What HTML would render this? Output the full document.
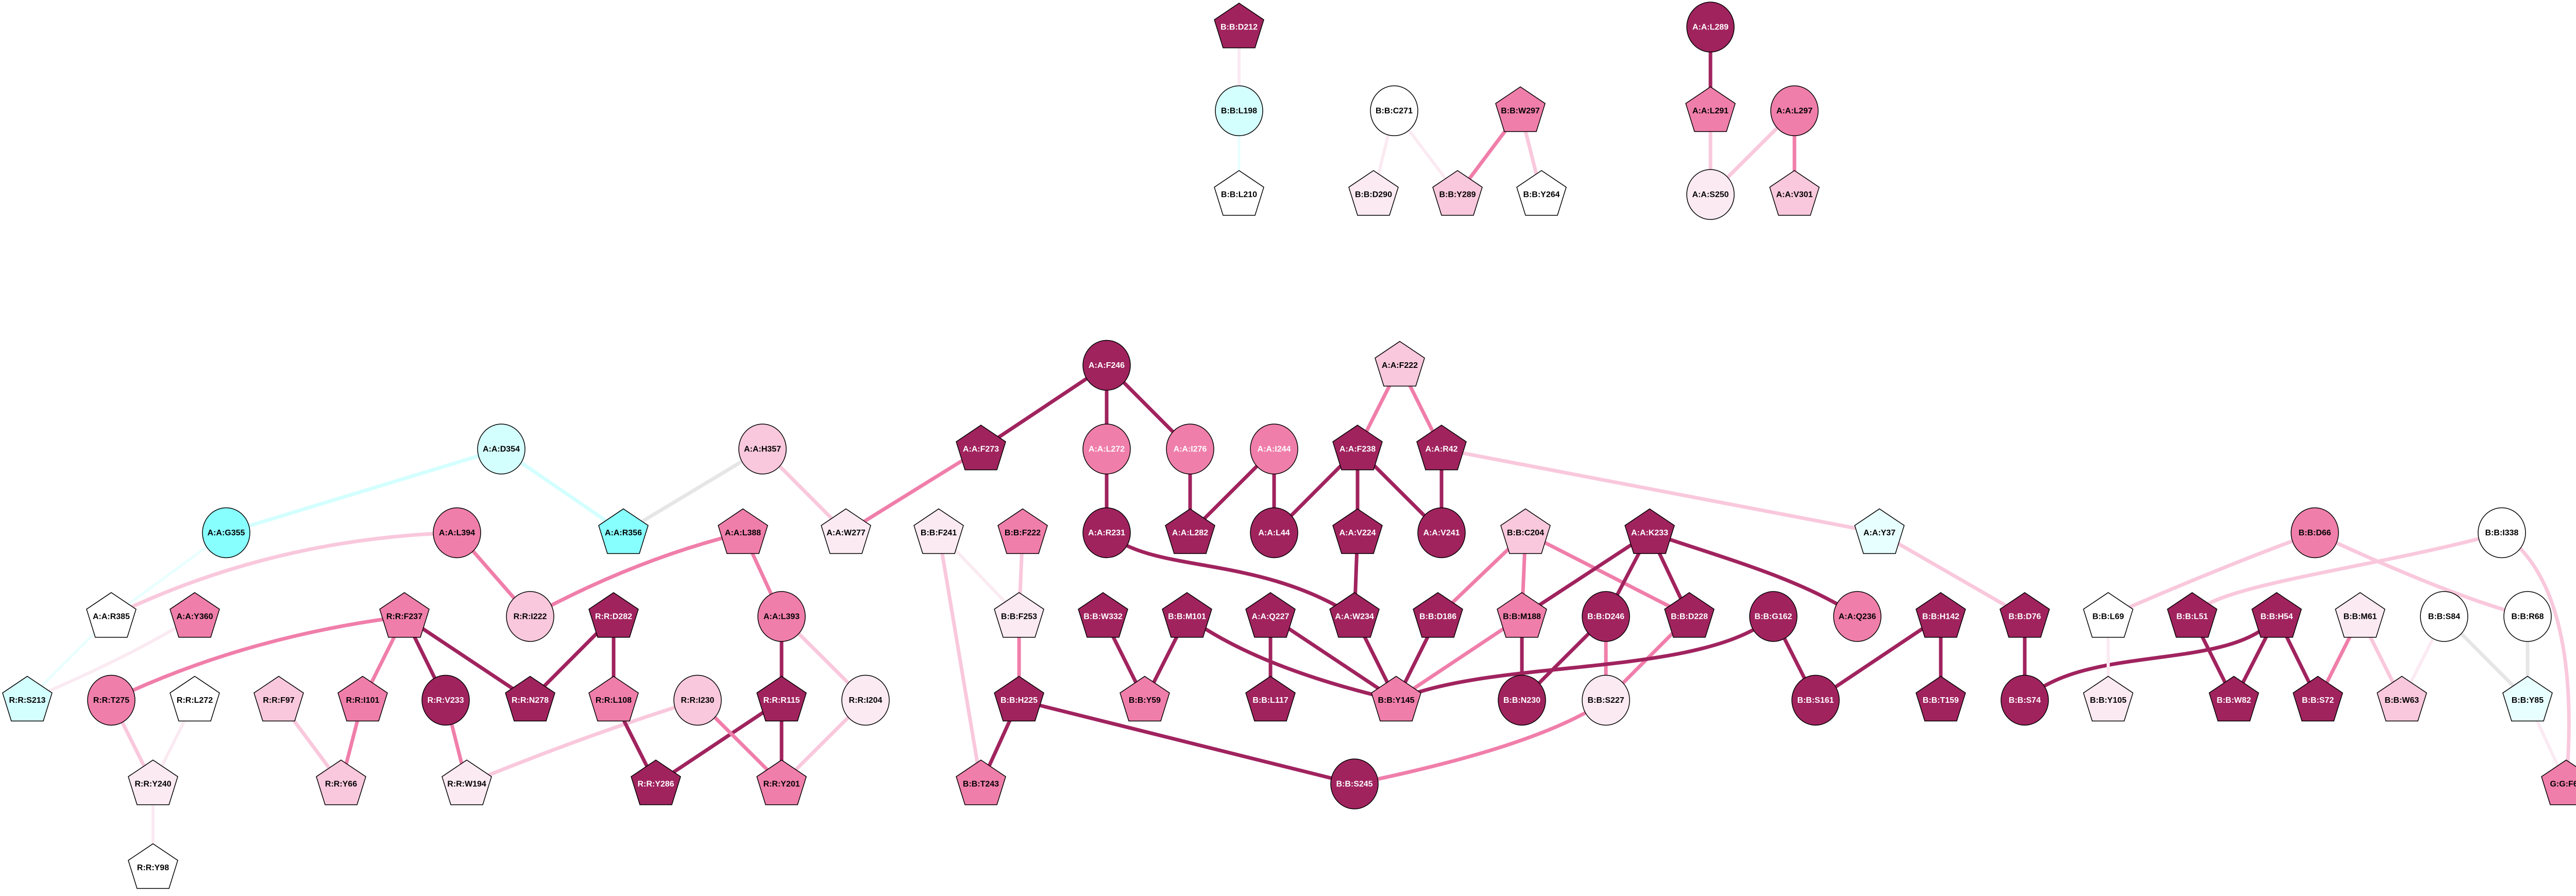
<!DOCTYPE html>
<html><head><meta charset="utf-8"><style>
html,body{margin:0;padding:0;background:#fff;overflow:hidden;width:5045px;height:1739px;}
svg{display:block;}
text{font-family:"Liberation Sans",sans-serif;font-weight:bold;font-size:16px;text-anchor:middle;dominant-baseline:central;fill:#000;}
text.w{fill:#fff;}
.e{fill:none;stroke-linecap:butt;}
.d{stroke:#A0235E;stroke-width:7;}
.m{stroke:#F07EAA;stroke-width:7;}
.l{stroke:#F9C8DC;stroke-width:7;}
.v{stroke:#FBEAF2;stroke-width:6;}
.c{stroke:#D4FFFF;stroke-width:7;}
.vc{stroke:#E8FFFF;stroke-width:5;}
.g{stroke:#E6E6E6;stroke-width:7;}
ellipse,.pp{stroke:#000;stroke-width:1.5;}
</style></head><body>
<svg width="5045" height="1739" viewBox="0 0 5045 1739" xmlns="http://www.w3.org/2000/svg">
<defs><path id="p" class="pp" d="M0,-46 L48,-14 L31,40 L-31,40 L-48,-14 Z"/></defs>
<g transform="matrix(1,0,0,1.0093,0,0)">
<g class="e">
<line class="v" x1="2405" y1="52" x2="2405" y2="213"/>
<line class="vc" x1="2405" y1="213" x2="2405" y2="374"/>
<line class="v" x1="2706" y1="213" x2="2666" y2="374"/>
<line class="v" x1="2706" y1="213" x2="2829" y2="374"/>
<line class="m" x1="2951" y1="213" x2="2829" y2="374"/>
<line class="l" x1="2951" y1="213" x2="2992" y2="374"/>
<line class="d" x1="3320" y1="52" x2="3320" y2="213"/>
<line class="l" x1="3320" y1="213" x2="3320" y2="374"/>
<line class="l" x1="3483" y1="213" x2="3320" y2="374"/>
<line class="m" x1="3483" y1="213" x2="3483" y2="374"/>
</g>
<use href="#p" x="2405" y="52" fill="#A0235E"/><text class="w" x="2405" y="52">B:B:D212</text>
<ellipse cx="2405" cy="213" rx="46" ry="48" fill="#D4FFFF"/><text x="2405" y="213">B:B:L198</text>
<use href="#p" x="2405" y="374" fill="#FFFFFF"/><text x="2405" y="374">B:B:L210</text>
<ellipse cx="2706" cy="213" rx="46" ry="48" fill="#FFFFFF"/><text x="2706" y="213">B:B:C271</text>
<use href="#p" x="2951" y="213" fill="#F07EAA"/><text x="2951" y="213">B:B:W297</text>
<use href="#p" x="2666" y="374" fill="#FBEAF2"/><text x="2666" y="374">B:B:D290</text>
<use href="#p" x="2829" y="374" fill="#F9C8DC"/><text x="2829" y="374">B:B:Y289</text>
<use href="#p" x="2992" y="374" fill="#FFFFFF"/><text x="2992" y="374">B:B:Y264</text>
<ellipse cx="3320" cy="52" rx="46" ry="48" fill="#A0235E"/><text class="w" x="3320" y="52">A:A:L289</text>
<use href="#p" x="3320" y="213" fill="#F07EAA"/><text x="3320" y="213">A:A:L291</text>
<ellipse cx="3483" cy="213" rx="46" ry="48" fill="#F07EAA"/><text x="3483" y="213">A:A:L297</text>
<ellipse cx="3320" cy="374" rx="46" ry="48" fill="#FBEAF2"/><text x="3320" y="374">A:A:S250</text>
<use href="#p" x="3483" y="374" fill="#F9C8DC"/><text x="3483" y="374">A:A:V301</text>
</g>
<g transform="matrix(1,0,0,1.00932,0,-5.6)">
<g class="e">
<line class="c" x1="973" y1="869" x2="439" y2="1030"/>
<line class="c" x1="973" y1="869" x2="1210" y2="1030"/>
<line class="g" x1="1480" y1="869" x2="1210" y2="1030"/>
<line class="l" x1="1480" y1="869" x2="1642" y2="1030"/>
<line class="vc" x1="439" y1="1030" x2="216" y2="1191"/>
<path class="l" d="M887,1030 Q529,1040 216,1191"/>
<line class="m" x1="887" y1="1030" x2="1029" y2="1191"/>
<path class="m" d="M1442,1030 Q1235,1080 1029,1191"/>
<line class="m" x1="1442" y1="1030" x2="1517" y2="1191"/>
<line class="vc" x1="216" y1="1191" x2="53" y2="1352"/>
<path class="v" d="M378,1191 Q250,1270 53,1352"/>
<path class="m" d="M785,1191 Q476,1229 216,1352"/>
<line class="m" x1="785" y1="1191" x2="704" y2="1352"/>
<line class="d" x1="785" y1="1191" x2="865" y2="1352"/>
<line class="d" x1="785" y1="1191" x2="1029" y2="1352"/>
<line class="d" x1="1191" y1="1191" x2="1029" y2="1352"/>
<line class="d" x1="1191" y1="1191" x2="1191" y2="1352"/>
<line class="d" x1="1517" y1="1191" x2="1517" y2="1352"/>
<line class="l" x1="1517" y1="1191" x2="1680" y2="1352"/>
<line class="l" x1="216" y1="1352" x2="297" y2="1513"/>
<line class="v" x1="378" y1="1352" x2="297" y2="1513"/>
<line class="l" x1="541" y1="1352" x2="662" y2="1513"/>
<line class="m" x1="704" y1="1352" x2="662" y2="1513"/>
<line class="m" x1="865" y1="1352" x2="906" y2="1513"/>
<path class="l" d="M1354,1352 Q1140,1418 906,1513"/>
<line class="d" x1="1191" y1="1352" x2="1273" y2="1513"/>
<line class="d" x1="1517" y1="1352" x2="1273" y2="1513"/>
<line class="m" x1="1354" y1="1352" x2="1517" y2="1513"/>
<line class="d" x1="1517" y1="1352" x2="1517" y2="1513"/>
<line class="l" x1="1680" y1="1352" x2="1517" y2="1513"/>
<line class="v" x1="297" y1="1513" x2="297" y2="1674"/>
<line class="m" x1="1904" y1="869" x2="1642" y2="1030"/>
<line class="d" x1="2148" y1="708" x2="1904" y2="869"/>
<line class="d" x1="2148" y1="708" x2="2148" y2="869"/>
<line class="d" x1="2148" y1="708" x2="2310" y2="869"/>
<line class="d" x1="2148" y1="869" x2="2148" y2="1030"/>
<line class="d" x1="2310" y1="869" x2="2310" y2="1030"/>
<line class="d" x1="2473" y1="869" x2="2310" y2="1030"/>
<line class="d" x1="2473" y1="869" x2="2473" y2="1030"/>
<line class="m" x1="2717" y1="708" x2="2635" y2="869"/>
<line class="m" x1="2717" y1="708" x2="2798" y2="869"/>
<line class="d" x1="2635" y1="869" x2="2473" y2="1030"/>
<line class="d" x1="2635" y1="869" x2="2635" y2="1030"/>
<line class="d" x1="2635" y1="869" x2="2798" y2="1030"/>
<line class="d" x1="2798" y1="869" x2="2798" y2="1030"/>
<line class="l" x1="2798" y1="869" x2="3648" y2="1030"/>
<path class="d" d="M2148,1030 C2240,1110 2440,1070 2629,1191"/>
<line class="d" x1="2635" y1="1030" x2="2629" y2="1191"/>
<line class="v" x1="1822" y1="1030" x2="1978" y2="1191"/>
<line class="l" x1="1822" y1="1030" x2="1904" y2="1513"/>
<line class="l" x1="1985" y1="1030" x2="1978" y2="1191"/>
<line class="m" x1="1978" y1="1191" x2="1978" y2="1352"/>
<line class="d" x1="2141" y1="1191" x2="2222" y2="1352"/>
<line class="d" x1="2304" y1="1191" x2="2222" y2="1352"/>
<path class="d" d="M2304,1191 Q2440,1290 2710,1352"/>
<line class="d" x1="2466" y1="1191" x2="2466" y2="1352"/>
<line class="d" x1="2466" y1="1191" x2="2710" y2="1352"/>
<line class="d" x1="2629" y1="1191" x2="2710" y2="1352"/>
<line class="d" x1="2791" y1="1191" x2="2710" y2="1352"/>
<line class="m" x1="2954" y1="1191" x2="2710" y2="1352"/>
<line class="m" x1="2961" y1="1030" x2="2791" y2="1191"/>
<line class="m" x1="2961" y1="1030" x2="2954" y2="1191"/>
<line class="m" x1="2961" y1="1030" x2="3279" y2="1191"/>
<line class="d" x1="3202" y1="1030" x2="2954" y2="1191"/>
<line class="d" x1="3202" y1="1030" x2="3117" y2="1191"/>
<line class="d" x1="3202" y1="1030" x2="3279" y2="1191"/>
<path class="d" d="M3202,1030 C3350,1080 3500,1120 3605,1191"/>
<line class="d" x1="2954" y1="1191" x2="2954" y2="1352"/>
<line class="d" x1="3117" y1="1191" x2="2954" y2="1352"/>
<line class="m" x1="3117" y1="1191" x2="3117" y2="1352"/>
<line class="m" x1="3279" y1="1191" x2="3117" y2="1352"/>
<path class="d" d="M2710,1352 C2900,1270 3300,1310 3442,1191"/>
<line class="d" x1="1978" y1="1352" x2="1904" y2="1513"/>
<line class="d" x1="1978" y1="1352" x2="2629" y2="1513"/>
<path class="m" d="M3117,1352 Q2990,1440 2629,1513"/>
<line class="d" x1="3442" y1="1191" x2="3524" y2="1352"/>
<line class="d" x1="3767" y1="1191" x2="3524" y2="1352"/>
<line class="d" x1="3767" y1="1191" x2="3767" y2="1352"/>
<line class="d" x1="3930" y1="1191" x2="3930" y2="1352"/>
<line class="l" x1="3648" y1="1030" x2="3930" y2="1191"/>
<path class="d" d="M4419,1191 C4330,1300 4050,1240 3930,1352"/>
<line class="v" x1="4092" y1="1191" x2="4092" y2="1352"/>
<path class="l" d="M4493,1030 Q4300,1100 4092,1191"/>
<path class="l" d="M4856,1030 C4600,1100 4290,1130 4255,1191"/>
<path class="l" d="M4493,1030 Q4750,1150 4906,1191"/>
<line class="d" x1="4255" y1="1191" x2="4336" y2="1352"/>
<line class="d" x1="4419" y1="1191" x2="4336" y2="1352"/>
<line class="d" x1="4419" y1="1191" x2="4499" y2="1352"/>
<line class="m" x1="4581" y1="1191" x2="4499" y2="1352"/>
<line class="l" x1="4581" y1="1191" x2="4662" y2="1352"/>
<line class="v" x1="4744" y1="1191" x2="4662" y2="1352"/>
<line class="g" x1="4744" y1="1191" x2="4906" y2="1352"/>
<line class="g" x1="4906" y1="1191" x2="4906" y2="1352"/>
<path class="l" d="M4856,1030 C4990,1120 4995,1350 4981,1513"/>
<line class="v" x1="4906" y1="1352" x2="4981" y2="1513"/>
</g>
<ellipse cx="2148" cy="708" rx="46" ry="48" fill="#A0235E"/><text class="w" x="2148" y="708">A:A:F246</text>
<use href="#p" x="2717" y="708" fill="#F9C8DC"/><text x="2717" y="708">A:A:F222</text>
<ellipse cx="973" cy="869" rx="46" ry="48" fill="#D4FFFF"/><text x="973" y="869">A:A:D354</text>
<ellipse cx="1480" cy="869" rx="46" ry="48" fill="#F9C8DC"/><text x="1480" y="869">A:A:H357</text>
<use href="#p" x="1904" y="869" fill="#A0235E"/><text class="w" x="1904" y="869">A:A:F273</text>
<ellipse cx="2148" cy="869" rx="46" ry="48" fill="#F07EAA"/><text class="w" x="2148" y="869">A:A:L272</text>
<ellipse cx="2310" cy="869" rx="46" ry="48" fill="#F07EAA"/><text class="w" x="2310" y="869">A:A:I276</text>
<ellipse cx="2473" cy="869" rx="46" ry="48" fill="#F07EAA"/><text class="w" x="2473" y="869">A:A:I244</text>
<use href="#p" x="2635" y="869" fill="#A0235E"/><text class="w" x="2635" y="869">A:A:F238</text>
<use href="#p" x="2798" y="869" fill="#A0235E"/><text class="w" x="2798" y="869">A:A:R42</text>
<ellipse cx="439" cy="1030" rx="46" ry="48" fill="#88FFFF"/><text x="439" y="1030">A:A:G355</text>
<ellipse cx="887" cy="1030" rx="46" ry="48" fill="#F07EAA"/><text x="887" y="1030">A:A:L394</text>
<use href="#p" x="1210" y="1030" fill="#88FFFF"/><text x="1210" y="1030">A:A:R356</text>
<use href="#p" x="1442" y="1030" fill="#F07EAA"/><text x="1442" y="1030">A:A:L388</text>
<use href="#p" x="1642" y="1030" fill="#FBEAF2"/><text x="1642" y="1030">A:A:W277</text>
<use href="#p" x="1822" y="1030" fill="#FBEAF2"/><text x="1822" y="1030">B:B:F241</text>
<use href="#p" x="1985" y="1030" fill="#F07EAA"/><text x="1985" y="1030">B:B:F222</text>
<ellipse cx="2148" cy="1030" rx="46" ry="48" fill="#A0235E"/><text class="w" x="2148" y="1030">A:A:R231</text>
<use href="#p" x="2310" y="1030" fill="#A0235E"/><text class="w" x="2310" y="1030">A:A:L282</text>
<ellipse cx="2473" cy="1030" rx="46" ry="48" fill="#A0235E"/><text class="w" x="2473" y="1030">A:A:L44</text>
<use href="#p" x="2635" y="1030" fill="#A0235E"/><text class="w" x="2635" y="1030">A:A:V224</text>
<ellipse cx="2798" cy="1030" rx="46" ry="48" fill="#A0235E"/><text class="w" x="2798" y="1030">A:A:V241</text>
<use href="#p" x="2961" y="1030" fill="#F9C8DC"/><text x="2961" y="1030">B:B:C204</text>
<use href="#p" x="3202" y="1030" fill="#A0235E"/><text class="w" x="3202" y="1030">A:A:K233</text>
<use href="#p" x="3648" y="1030" fill="#E8FFFF"/><text x="3648" y="1030">A:A:Y37</text>
<ellipse cx="4493" cy="1030" rx="46" ry="48" fill="#F07EAA"/><text x="4493" y="1030">B:B:D66</text>
<ellipse cx="4856" cy="1030" rx="46" ry="48" fill="#FFFFFF"/><text x="4856" y="1030">B:B:I338</text>
<use href="#p" x="216" y="1191" fill="#FFFFFF"/><text x="216" y="1191">A:A:R385</text>
<use href="#p" x="378" y="1191" fill="#F07EAA"/><text x="378" y="1191">A:A:Y360</text>
<use href="#p" x="785" y="1191" fill="#F07EAA"/><text x="785" y="1191">R:R:F237</text>
<ellipse cx="1029" cy="1191" rx="46" ry="48" fill="#F9C8DC"/><text x="1029" y="1191">R:R:I222</text>
<use href="#p" x="1191" y="1191" fill="#A0235E"/><text class="w" x="1191" y="1191">R:R:D282</text>
<ellipse cx="1517" cy="1191" rx="46" ry="48" fill="#F07EAA"/><text x="1517" y="1191">A:A:L393</text>
<use href="#p" x="1978" y="1191" fill="#FBEAF2"/><text x="1978" y="1191">B:B:F253</text>
<use href="#p" x="2141" y="1191" fill="#A0235E"/><text class="w" x="2141" y="1191">B:B:W332</text>
<use href="#p" x="2304" y="1191" fill="#A0235E"/><text class="w" x="2304" y="1191">B:B:M101</text>
<use href="#p" x="2466" y="1191" fill="#A0235E"/><text class="w" x="2466" y="1191">A:A:Q227</text>
<use href="#p" x="2629" y="1191" fill="#A0235E"/><text class="w" x="2629" y="1191">A:A:W234</text>
<use href="#p" x="2791" y="1191" fill="#A0235E"/><text class="w" x="2791" y="1191">B:B:D186</text>
<use href="#p" x="2954" y="1191" fill="#F07EAA"/><text x="2954" y="1191">B:B:M188</text>
<ellipse cx="3117" cy="1191" rx="46" ry="48" fill="#A0235E"/><text class="w" x="3117" y="1191">B:B:D246</text>
<use href="#p" x="3279" y="1191" fill="#A0235E"/><text class="w" x="3279" y="1191">B:B:D228</text>
<ellipse cx="3442" cy="1191" rx="46" ry="48" fill="#A0235E"/><text class="w" x="3442" y="1191">B:B:G162</text>
<ellipse cx="3605" cy="1191" rx="46" ry="48" fill="#F07EAA"/><text x="3605" y="1191">A:A:Q236</text>
<use href="#p" x="3767" y="1191" fill="#A0235E"/><text class="w" x="3767" y="1191">B:B:H142</text>
<use href="#p" x="3930" y="1191" fill="#A0235E"/><text class="w" x="3930" y="1191">B:B:D76</text>
<use href="#p" x="4092" y="1191" fill="#FFFFFF"/><text x="4092" y="1191">B:B:L69</text>
<use href="#p" x="4255" y="1191" fill="#A0235E"/><text class="w" x="4255" y="1191">B:B:L51</text>
<use href="#p" x="4419" y="1191" fill="#A0235E"/><text class="w" x="4419" y="1191">B:B:H54</text>
<use href="#p" x="4581" y="1191" fill="#FBEAF2"/><text x="4581" y="1191">B:B:M61</text>
<ellipse cx="4744" cy="1191" rx="46" ry="48" fill="#FFFFFF"/><text x="4744" y="1191">B:B:S84</text>
<ellipse cx="4906" cy="1191" rx="46" ry="48" fill="#FFFFFF"/><text x="4906" y="1191">B:B:R68</text>
<use href="#p" x="53" y="1352" fill="#D4FFFF"/><text x="53" y="1352">R:R:S213</text>
<ellipse cx="216" cy="1352" rx="46" ry="48" fill="#F07EAA"/><text x="216" y="1352">R:R:T275</text>
<use href="#p" x="378" y="1352" fill="#FFFFFF"/><text x="378" y="1352">R:R:L272</text>
<use href="#p" x="541" y="1352" fill="#F9C8DC"/><text x="541" y="1352">R:R:F97</text>
<use href="#p" x="704" y="1352" fill="#F07EAA"/><text x="704" y="1352">R:R:I101</text>
<ellipse cx="865" cy="1352" rx="46" ry="48" fill="#A0235E"/><text class="w" x="865" y="1352">R:R:V233</text>
<use href="#p" x="1029" y="1352" fill="#A0235E"/><text class="w" x="1029" y="1352">R:R:N278</text>
<use href="#p" x="1191" y="1352" fill="#F07EAA"/><text x="1191" y="1352">R:R:L108</text>
<ellipse cx="1354" cy="1352" rx="46" ry="48" fill="#F9C8DC"/><text x="1354" y="1352">R:R:I230</text>
<use href="#p" x="1517" y="1352" fill="#A0235E"/><text class="w" x="1517" y="1352">R:R:R115</text>
<ellipse cx="1680" cy="1352" rx="46" ry="48" fill="#FBEAF2"/><text x="1680" y="1352">R:R:I204</text>
<use href="#p" x="1978" y="1352" fill="#A0235E"/><text class="w" x="1978" y="1352">B:B:H225</text>
<use href="#p" x="2222" y="1352" fill="#F07EAA"/><text x="2222" y="1352">B:B:Y59</text>
<use href="#p" x="2466" y="1352" fill="#A0235E"/><text class="w" x="2466" y="1352">B:B:L117</text>
<use href="#p" x="2710" y="1352" fill="#F07EAA"/><text x="2710" y="1352">B:B:Y145</text>
<ellipse cx="2954" cy="1352" rx="46" ry="48" fill="#A0235E"/><text class="w" x="2954" y="1352">B:B:N230</text>
<ellipse cx="3117" cy="1352" rx="46" ry="48" fill="#FBEAF2"/><text x="3117" y="1352">B:B:S227</text>
<ellipse cx="3524" cy="1352" rx="46" ry="48" fill="#A0235E"/><text class="w" x="3524" y="1352">B:B:S161</text>
<use href="#p" x="3767" y="1352" fill="#A0235E"/><text class="w" x="3767" y="1352">B:B:T159</text>
<ellipse cx="3930" cy="1352" rx="46" ry="48" fill="#A0235E"/><text class="w" x="3930" y="1352">B:B:S74</text>
<use href="#p" x="4092" y="1352" fill="#FBEAF2"/><text x="4092" y="1352">B:B:Y105</text>
<use href="#p" x="4336" y="1352" fill="#A0235E"/><text class="w" x="4336" y="1352">B:B:W82</text>
<use href="#p" x="4499" y="1352" fill="#A0235E"/><text class="w" x="4499" y="1352">B:B:S72</text>
<use href="#p" x="4662" y="1352" fill="#F9C8DC"/><text x="4662" y="1352">B:B:W63</text>
<use href="#p" x="4906" y="1352" fill="#E8FFFF"/><text x="4906" y="1352">B:B:Y85</text>
<use href="#p" x="297" y="1513" fill="#FBEAF2"/><text x="297" y="1513">R:R:Y240</text>
<use href="#p" x="662" y="1513" fill="#F9C8DC"/><text x="662" y="1513">R:R:Y66</text>
<use href="#p" x="906" y="1513" fill="#FBEAF2"/><text x="906" y="1513">R:R:W194</text>
<use href="#p" x="1273" y="1513" fill="#A0235E"/><text class="w" x="1273" y="1513">R:R:Y286</text>
<use href="#p" x="1517" y="1513" fill="#F07EAA"/><text x="1517" y="1513">R:R:Y201</text>
<use href="#p" x="1904" y="1513" fill="#F07EAA"/><text x="1904" y="1513">B:B:T243</text>
<ellipse cx="2629" cy="1513" rx="46" ry="48" fill="#A0235E"/><text class="w" x="2629" y="1513">B:B:S245</text>
<use href="#p" x="4981" y="1513" fill="#F07EAA"/><text x="4981" y="1513">G:G:F61</text>
<use href="#p" x="297" y="1674" fill="#FFFFFF"/><text x="297" y="1674">R:R:Y98</text>
</g>
</svg>
</body></html>
